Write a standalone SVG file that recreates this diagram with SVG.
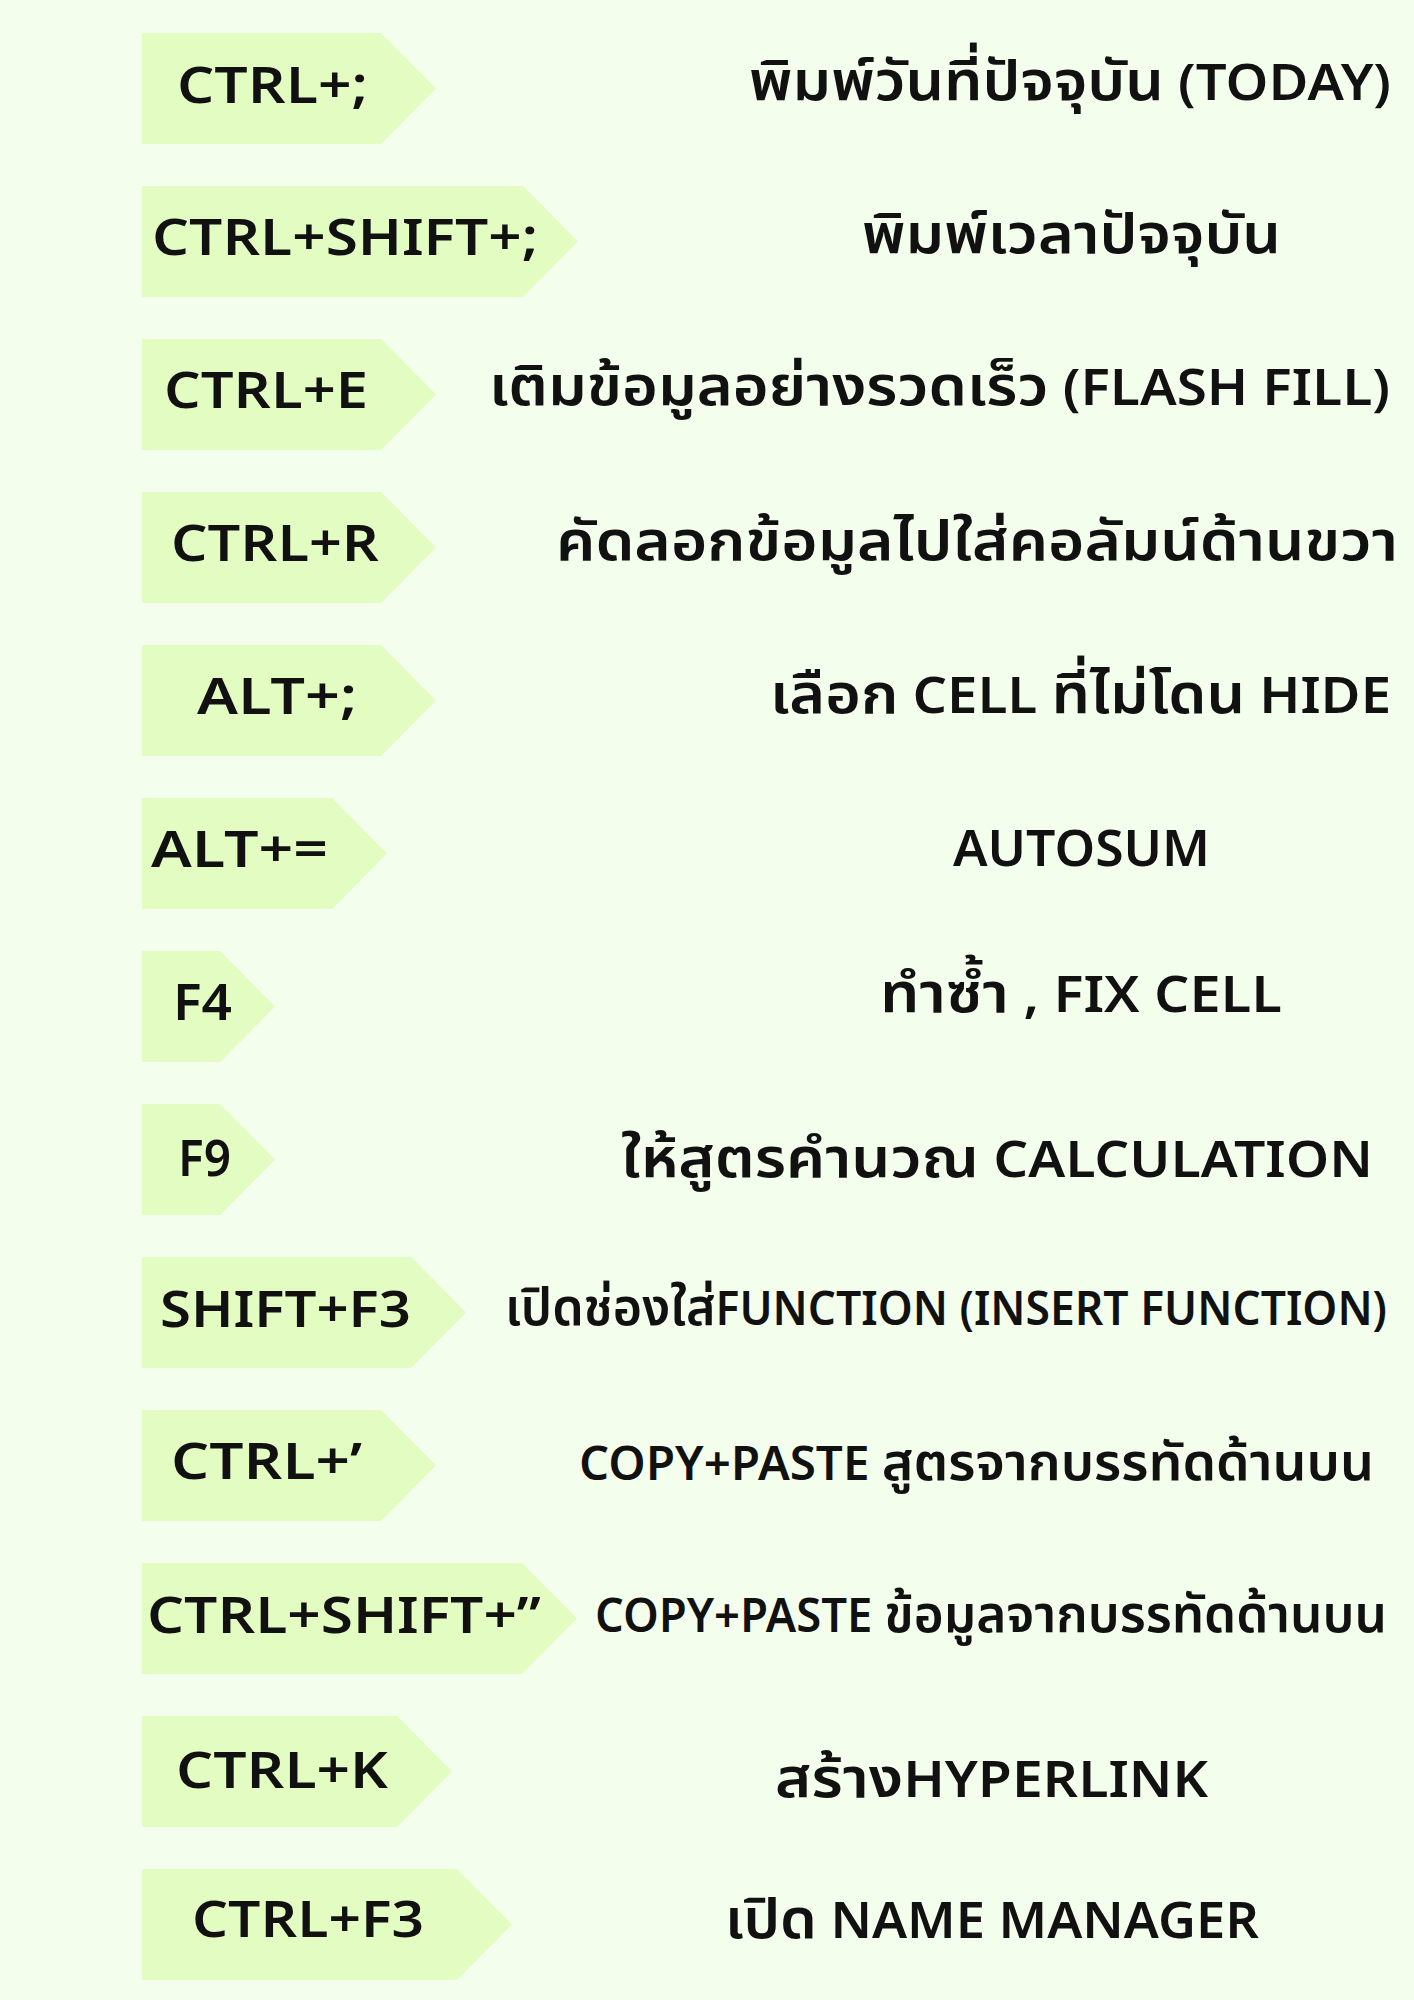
<svg xmlns="http://www.w3.org/2000/svg" width="1414" height="2000" viewBox="0 0 1414 2000">
<style>
.bg{fill:#f4feec}
.tag{fill:#e3fcc2}
.k,.d{font-family:"Noto Sans Thai","Noto Sans","DejaVu Sans",sans-serif;fill:#111;font-weight:600}
.k{font-size:50px}
.d{font-size:50px}
.s{font-size:46px}
.t{font-size:56px}
.ts{font-size:52px}
</style>
<rect class="bg" x="0" y="0" width="1414" height="2000"/>
<g id="row1"><polygon class="tag" points="142,33 381,33 436,88.5 381,144 142,144"/><text class="k" x="177" y="103" textLength="191" lengthAdjust="spacingAndGlyphs">CTRL+;</text><text class="d" x="749" y="100" textLength="642" lengthAdjust="spacingAndGlyphs"><tspan class="t">พิมพ์วันที่ปัจจุบัน</tspan> (TODAY)</text></g>
<g id="row2"><polygon class="tag" points="142,186 523,186 578,241.5 523,297 142,297"/><text class="k" x="152" y="255" textLength="386" lengthAdjust="spacingAndGlyphs">CTRL+SHIFT+;</text><text class="d t" x="862" y="253" textLength="419" lengthAdjust="spacingAndGlyphs">พิมพ์เวลาปัจจุบัน</text></g>
<g id="row3"><polygon class="tag" points="142,339 381,339 436,394.5 381,450 142,450"/><text class="k" x="164" y="408" textLength="204" lengthAdjust="spacingAndGlyphs">CTRL+E</text><text class="d" x="489" y="405" textLength="901" lengthAdjust="spacingAndGlyphs"><tspan class="t">เติมข้อมูลอย่างรวดเร็ว</tspan> (FLASH FILL)</text></g>
<g id="row4"><polygon class="tag" points="142,492 381,492 436,547.5 381,603 142,603"/><text class="k" x="171" y="561" textLength="208" lengthAdjust="spacingAndGlyphs">CTRL+R</text><text class="d t" x="556" y="560" textLength="842" lengthAdjust="spacingAndGlyphs">คัดลอกข้อมูลไปใส่คอลัมน์ด้านขวา</text></g>
<g id="row5"><polygon class="tag" points="142,645 381,645 436,700.5 381,756 142,756"/><text class="k" x="197" y="714" textLength="160" lengthAdjust="spacingAndGlyphs">ALT+;</text><text class="d" x="770" y="713" textLength="621" lengthAdjust="spacingAndGlyphs"><tspan class="t">เลือก</tspan> CELL <tspan class="t">ที่ไม่โดน</tspan> HIDE</text></g>
<g id="row6"><polygon class="tag" points="142,798 332,798 387,853.5 332,909 142,909"/><text class="k" x="151" y="867" textLength="177" lengthAdjust="spacingAndGlyphs">ALT+=</text><text class="d" x="953" y="866" textLength="257" lengthAdjust="spacingAndGlyphs">AUTOSUM</text></g>
<g id="row7"><polygon class="tag" points="142,951 220,951 275,1006.5 220,1062 142,1062"/><text class="k" x="173" y="1020" textLength="59" lengthAdjust="spacingAndGlyphs">F4</text><text class="d" x="880" y="1012" textLength="402" lengthAdjust="spacingAndGlyphs"><tspan class="t">ทำซ้ำ</tspan> , FIX CELL</text></g>
<g id="row8"><polygon class="tag" points="142,1104 220,1104 275,1159.5 220,1215 142,1215"/><text class="k" x="178" y="1176" textLength="53" lengthAdjust="spacingAndGlyphs">F9</text><text class="d" x="621" y="1177" textLength="752" lengthAdjust="spacingAndGlyphs"><tspan class="t">ให้สูตรคำนวณ</tspan> CALCULATION</text></g>
<g id="row9"><polygon class="tag" points="142,1257 411,1257 466,1312.5 411,1368 142,1368"/><text class="k" x="160" y="1327" textLength="251" lengthAdjust="spacingAndGlyphs">SHIFT+F3</text><text class="d s" x="505" y="1325" textLength="882" lengthAdjust="spacingAndGlyphs"><tspan class="ts">เปิดช่องใส่</tspan>FUNCTION (INSERT FUNCTION)</text></g>
<g id="row10"><polygon class="tag" points="142,1410 381,1410 436,1465.5 381,1521 142,1521"/><text class="k" x="171" y="1479" textLength="191" lengthAdjust="spacingAndGlyphs">CTRL+’</text><text class="d s" x="579" y="1480" textLength="795" lengthAdjust="spacingAndGlyphs">COPY+PASTE <tspan class="ts">สูตรจากบรรทัดด้านบน</tspan></text></g>
<g id="row11"><polygon class="tag" points="142,1563 522,1563 577,1618.5 522,1674 142,1674"/><text class="k" x="147" y="1633" textLength="394" lengthAdjust="spacingAndGlyphs">CTRL+SHIFT+”</text><text class="d s" x="595" y="1632" textLength="792" lengthAdjust="spacingAndGlyphs">COPY+PASTE <tspan class="ts">ข้อมูลจากบรรทัดด้านบน</tspan></text></g>
<g id="row12"><polygon class="tag" points="142,1716 397,1716 452,1771.5 397,1827 142,1827"/><text class="k" x="176" y="1788" textLength="212" lengthAdjust="spacingAndGlyphs">CTRL+K</text><text class="d" x="775" y="1797" textLength="433" lengthAdjust="spacingAndGlyphs"><tspan class="t">สร้าง</tspan>HYPERLINK</text></g>
<g id="row13"><polygon class="tag" points="142,1869 457,1869 512,1924.5 457,1980 142,1980"/><text class="k" x="192" y="1937" textLength="232" lengthAdjust="spacingAndGlyphs">CTRL+F3</text><text class="d" x="725" y="1938" textLength="534" lengthAdjust="spacingAndGlyphs"><tspan class="t">เปิด</tspan> NAME MANAGER</text></g>
</svg>
